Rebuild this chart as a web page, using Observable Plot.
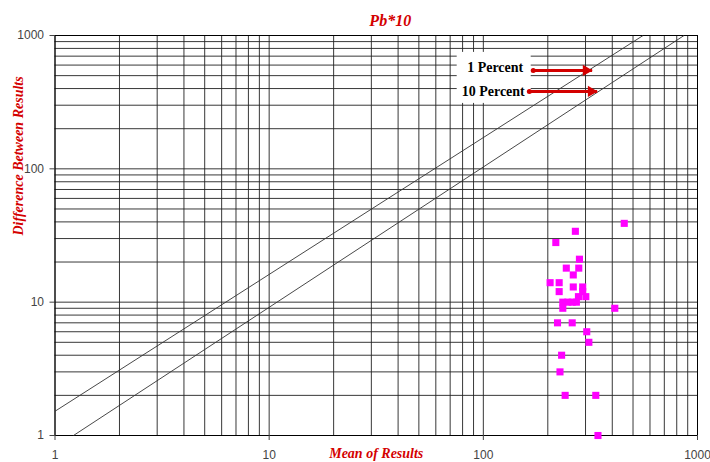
<!DOCTYPE html>
<html>
<head>
<meta charset="utf-8">
<script src="https://cdn.jsdelivr.net/npm/d3@7"></script>
<script src="https://cdn.jsdelivr.net/npm/@observablehq/plot@0.6"></script>
<style>
  html, body { margin: 0; padding: 0; background: #fff; }
</style>
</head>
<body>
<div id="chart"></div>
<script>
// ---- Data ----
const meanValues = [455,269,218,281,244,279,263,205,226,263,291,226,291,278,301,235,248,260,272,235,411,222,260,304,311,232,228,241,335,343];
const diffValues = [39,34,28,21,18,18,16,14,14,13,13,12,12,11,11,10,10,10,10,9,9,7,7,6,5,4,3,2,2,1];

// reference lines (1 % and 10 %) as end points
const refNames  = ["1 Percent", "10 Percent"];
const refStartX = [1, 1.22];
const refStartY = [1.52, 1];
const refEndX   = [557, 865];
const refEndY   = [1000, 1000];

// annotation labels and arrows
const labelX      = [113.6, 111.2];
const labelY      = [576, 381];
const arrowStartX = [171, 164];
const arrowEndX   = [322, 340];
const arrowY      = [547, 381];
const boxX = [75.5, 167.3];
const boxY = [309.5, 747];

const tickLabels = [1, 10, 100, 1000];
const gridValues = [];
for (const p of [1, 10, 100]) for (let k = 1; k <= 9; k++) gridValues.push(k * p);
gridValues.push(1000);

const points = meanValues.map((m, i) => ({mean: m, diff: diffValues[i]}));
const refs = refNames.map((n, i) => ({name: n, x1: refStartX[i], y1: refStartY[i], x2: refEndX[i], y2: refEndY[i]}));
const labels = refNames.map((n, i) => ({name: n, x: labelX[i], y: labelY[i], ax1: arrowStartX[i], ax2: arrowEndX[i], ay: arrowY[i]}));

const red = "#d40000";
const serif = "Liberation Serif, Times New Roman, serif";

const chart = Plot.plot({
  width: 710,
  height: 462,
  marginTop: 35,
  marginLeft: 54.5,
  marginRight: 13,
  marginBottom: 27,
  style: {fontFamily: "Liberation Sans, Arial, sans-serif", fontSize: "12px", background: "#fff"},
  x: {type: "log", domain: [1, 1000]},
  y: {type: "log", domain: [1, 1000]},
  marks: [
    Plot.gridX(gridValues, {stroke: "#222", strokeOpacity: 0.9, strokeWidth: 1}),
    Plot.gridY(gridValues, {stroke: "#222", strokeOpacity: 0.9, strokeWidth: 1}),
    Plot.rect([{}], {x1: boxX[0], x2: boxX[1], y1: boxY[0], y2: boxY[1], fill: "#fff"}),
    Plot.frame({stroke: "#000"}),
    Plot.axisX({ticks: tickLabels, tickFormat: d => String(d), tickSize: 5, tickPadding: 10, label: null, color: "#444", fontSize: 12}),
    Plot.axisY({ticks: tickLabels, tickFormat: d => String(d), tickSize: 5, tickPadding: 6, label: null, color: "#444", fontSize: 12}),
    Plot.link(refs, {x1: "x1", y1: "y1", x2: "x2", y2: "y2", stroke: "#333", strokeWidth: 0.9}),
    Plot.text(labels, {x: "x", y: "y", text: "name", fontFamily: serif, fontWeight: "bold", fontSize: 14, fill: "#000"}),
    Plot.link(labels, {x1: "ax1", x2: "ax2", y1: "ay", y2: "ay", stroke: red, strokeWidth: 3}),
    Plot.dot(labels, {x: "ax2", y: "ay", symbol: "triangle", rotate: 90, r: 4.2, dx: -6, fill: red}),
    Plot.dot(labels, {x: "ax1", y: "ay", r: 2.5, fill: red}),
    Plot.dot(points, {x: "mean", y: "diff", symbol: "square", r: 4, fill: "#ff00ff"}),
    Plot.text(["Pb*10"], {frameAnchor: "top", lineAnchor: "middle", dx: 14, dy: -15, text: d => d, fontFamily: serif, fontStyle: "italic", fontWeight: "bold", fontSize: 16, fill: red}),
    Plot.text(["Mean of Results"], {frameAnchor: "bottom", lineAnchor: "middle", dy: 18, text: d => d, fontFamily: serif, fontStyle: "italic", fontWeight: "bold", fontSize: 14, fill: red}),
    Plot.text(["Difference Between Results"], {frameAnchor: "left", dx: -36.5, rotate: -90, text: d => d, fontFamily: serif, fontStyle: "italic", fontWeight: "bold", fontSize: 14, fill: red})
  ]
});
document.getElementById("chart").appendChild(chart);
</script>
</body>
</html>
